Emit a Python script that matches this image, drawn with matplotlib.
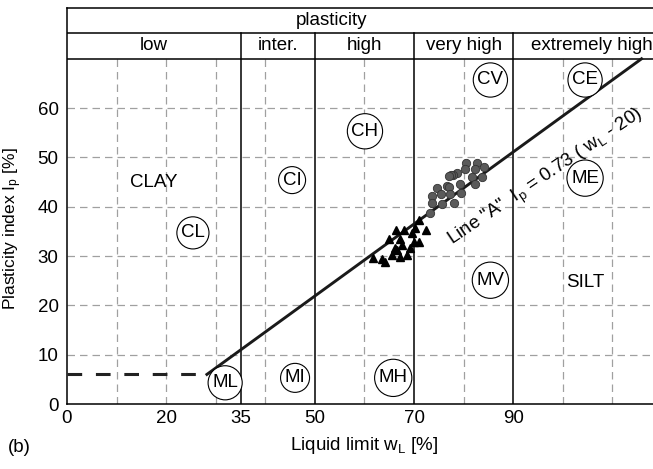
import matplotlib
matplotlib.use("Agg")
import matplotlib.pyplot as plt
import numpy as np

plt.rcParams['font.family'] = ['Liberation Sans', 'DejaVu Sans']
plt.rcParams['mathtext.fontset'] = 'custom'
plt.rcParams['mathtext.rm'] = 'Liberation Sans'
plt.rcParams['mathtext.it'] = 'Liberation Sans:italic'

# ---- data ----
circ_wl = [80.4, 82.7, 80.3, 82.2, 84.2, 78.6, 77.9, 77.5, 77.1, 79.2, 81.7, 83.7,
           74.6, 76.6, 77.1, 75.5, 77.3, 73.6, 73.6, 75.6, 78.1, 79.5, 82.2, 73.2]
circ_ip = [48.9, 48.9, 47.6, 47.6, 48.0, 46.9, 46.4, 46.4, 46.3, 44.7, 46.1, 46.1,
           43.9, 44.2, 44.1, 42.6, 42.6, 42.2, 40.8, 40.5, 40.7, 42.7, 44.6, 38.7]
tri_wl = [71.1, 66.3, 67.9, 69.6, 72.4, 70.1, 65.0, 67.1, 70.9, 69.9, 67.5, 66.2,
          66.6, 69.2, 65.5, 67.1, 68.5, 63.5, 61.8, 64.2]
tri_ip = [37.3, 35.3, 35.3, 34.6, 35.3, 35.6, 33.4, 33.4, 32.9, 32.9, 32.2, 31.6,
          31.2, 31.6, 30.3, 29.9, 30.2, 29.4, 29.7, 28.7]

x_ticks = [0, 20, 35, 50, 70, 90]
y_ticks = [0, 10, 20, 30, 40, 50, 60]
bounds = [35, 50, 70, 90]
classes = ["low", "inter.", "high", "very high", "extremely high"]
class_x = [17.5, 42.5, 60, 80, 105.8]
soil_labels = ["CL", "CI", "CH", "CV", "CE", "ME", "MV", "ML", "MI", "MH"]
soil_x = [25.4, 45.4, 60.1, 85.4, 104.5, 104.5, 85.4, 31.9, 46.0, 65.8]
soil_y = [34.7, 45.4, 55.3, 65.7, 65.7, 45.8, 25.1, 4.3, 5.3, 5.3]
a_slope, a_off, a_min = 0.73, 20, 6

XMAX, YTOP, YPLOT = 118.2, 80.3, 70.0
FS = 13.5

fig = plt.figure(figsize=(6.53, 4.69), dpi=100)
ax = fig.add_axes([67/653, 65/469, 1 - 67/653, 396/469])
ax.set_xlim(0, XMAX)
ax.set_ylim(0, YTOP)

# grid
gcol = '#a0a0a0'
for gy in range(10, 70, 10):
    ax.plot([0, XMAX], [gy, gy], color=gcol, lw=0.9, dashes=(6, 4), zorder=1)
for gx in [10, 20, 30, 40, 60, 80, 100, 110]:
    ax.plot([gx, gx], [0, YPLOT], color=gcol, lw=0.9, dashes=(6, 4), zorder=1)

# boundaries
for b in bounds:
    ax.plot([b, b], [0, 75.2], color='black', lw=1.1, zorder=2)
ax.plot([0, XMAX], [YPLOT, YPLOT], color='black', lw=1.1, zorder=2)
ax.plot([0, XMAX], [75.2, 75.2], color='black', lw=1.1, zorder=2)

# header texts
ax.text(53.3, 77.75, "plasticity", ha='center', va='center', fontsize=FS)
for cx, c in zip(class_x, classes):
    ax.text(cx, 72.6, c, ha='center', va='center', fontsize=FS)

# A-line
x_start = a_off + a_min / a_slope
ax.plot([0, x_start], [a_min, a_min], color='#222222', lw=2.2, dashes=(4.8, 4.5), zorder=3)
x_end = a_off + YPLOT / a_slope
xs = np.array([x_start, min(x_end, XMAX)])
ax.plot(xs, a_slope * (xs - a_off), color='#1a1a1a', lw=2.1, zorder=3)

# data points
ax.plot(tri_wl, tri_ip, linestyle='none', marker='^', ms=6, color='black', zorder=4)
ax.plot(circ_wl, circ_ip, linestyle='none', marker='o', ms=6, mfc='#5a5a5a',
        mec='#333333', mew=0.6, zorder=4)

# soil class circles
for lab, sx, sy in zip(soil_labels, soil_x, soil_y):
    ax.text(sx, sy, lab, ha='center', va='center', fontsize=FS, zorder=5,
            bbox=dict(boxstyle='circle,pad=0.22', fc='white', ec='black', lw=0.8))
ax.text(17.4, 45, "CLAY", ha='center', va='center', fontsize=FS)
ax.text(104.5, 24.7, "SILT", ha='center', va='center', fontsize=FS)

# A-line label
ax.text(96.6, 45.9, r'Line "A"  I$_\mathrm{p}$ = 0.73 ( w$_\mathrm{L}$ - 20)', rotation=34,
        rotation_mode='anchor', ha='center', va='center', fontsize=13.5, zorder=5)

# axes styling
ax.spines['right'].set_visible(False)
for s in ['left', 'bottom', 'top']:
    ax.spines[s].set_linewidth(1.1)
ax.set_xticks(x_ticks)
ax.set_yticks(y_ticks)
ax.tick_params(axis='both', length=0, labelsize=FS)
ax.tick_params(axis='x', pad=4)
ax.tick_params(axis='y', pad=6)
ax.set_xlabel(r'Liquid limit w$_\mathrm{L}$ [%]', fontsize=FS)
ax.set_ylabel(r'Plasticity index I$_\mathrm{p}$ [%]', fontsize=12.5)
ax.yaxis.set_label_coords((24 - 67) / 586, 0.442)
ax.xaxis.set_label_coords((364 - 67) / 586, -(435 - 404) / 396)
fig.text(8/653, 1 - 447/469, "(b)", ha='left', va='center', fontsize=FS)

fig.savefig("out.png", dpi=100)
